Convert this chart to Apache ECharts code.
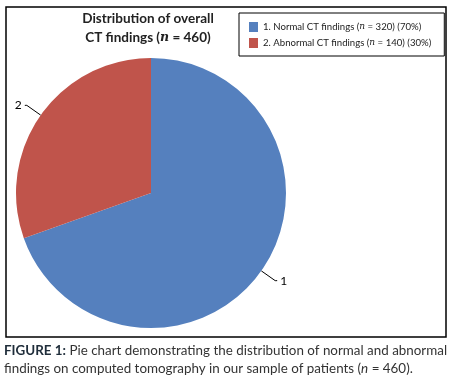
<!DOCTYPE html>
<html><head><meta charset="utf-8">
<script src="https://cdn.jsdelivr.net/npm/echarts@6/dist/echarts.min.js"></script>
<style>html,body{margin:0;padding:0;background:#fff}#c{width:453px;height:382px}</style>
</head><body><div id="c"></div>
<script>
const categories = ['1. Normal CT findings', '2. Abnormal CT findings'];
const counts = [320, 140];
const percents = [70, 30];
const sliceLabels = ['1', '2'];
const total = 460;
const colors = ['#5580BE', '#C0544B'];
const FONT = 'Lato';

const chart = echarts.init(document.getElementById('c'), null, {renderer: 'canvas'});
const legendText = {};
categories.forEach((c, i) => {
  legendText[c] = '{a|' + c + ' (}{i|n}{a| = ' + counts[i] + ') (' + percents[i] + '%)}';
});
chart.setOption({
  animation: false,
  color: colors,
  graphic: [{
    type: 'rect', shape: {x: 6, y: 7, width: 440, height: 330},
    style: {fill: 'none', stroke: '#000', lineWidth: 1.5}, z: -1
  }],
  title: [{
    text: 'Distribution of overall\nCT findings ({i|n} = 460)',
    left: 148, top: 9, textAlign: 'center', padding: 0,
    textStyle: {fontFamily: FONT, fontSize: 13.5, fontWeight: 'bold', color: '#222', lineHeight: 19,
      rich: {i: {fontFamily: 'DejaVu Serif', fontStyle: 'italic', fontWeight: 'bold', fontSize: 12.5, color: '#222'}}}
  }, {
    text: '{b|FIGURE 1:} Pie chart demonstrating the distribution of normal and abnormal',
    left: 4, top: 344, padding: 0,
    textStyle: {fontFamily: FONT, fontSize: 13.4, color: '#333', fontWeight: 'normal',
      rich: {b: {fontFamily: FONT, fontSize: 13.4, fontWeight: 'bold', color: '#1f2d3a'}}}
  }, {
    text: 'findings on computed tomography in our sample of patients ({i|n} = 460).',
    left: 4, top: 362, padding: 0,
    textStyle: {fontFamily: FONT, fontSize: 13.4, color: '#333', fontWeight: 'normal',
      rich: {i: {fontFamily: FONT, fontSize: 13.4, fontStyle: 'italic', color: '#333'}}}
  }],
  legend: {
    orient: 'vertical', left: 239, top: 13,
    itemWidth: 9, itemHeight: 10, itemGap: 6,
    padding: [9, 13, 8, 10],
    borderColor: '#000', borderWidth: 1,
    icon: 'rect',
    data: categories,
    formatter: name => legendText[name],
    textStyle: {fontFamily: FONT, fontSize: 9.6, color: '#222',
      rich: {a: {fontFamily: FONT, fontSize: 9.6, color: '#222'},
             i: {fontFamily: 'DejaVu Serif', fontStyle: 'italic', fontSize: 9, color: '#222'}}}
  },
  series: [{
    type: 'pie',
    center: [151, 193], radius: 135,
    startAngle: 90, clockwise: true,
    data: categories.map((c, i) => ({name: c, value: counts[i]})),
    label: {
      show: true, position: 'outside',
      formatter: p => sliceLabels[p.dataIndex],
      fontFamily: FONT, fontSize: 12, color: '#000', distanceToLabelLine: 3
    },
    labelLine: {show: true, length: 17, length2: 2, lineStyle: {color: '#000', width: 1}},
    itemStyle: {borderWidth: 0},
    emphasis: {disabled: true}
  }]
});
</script></body></html>
